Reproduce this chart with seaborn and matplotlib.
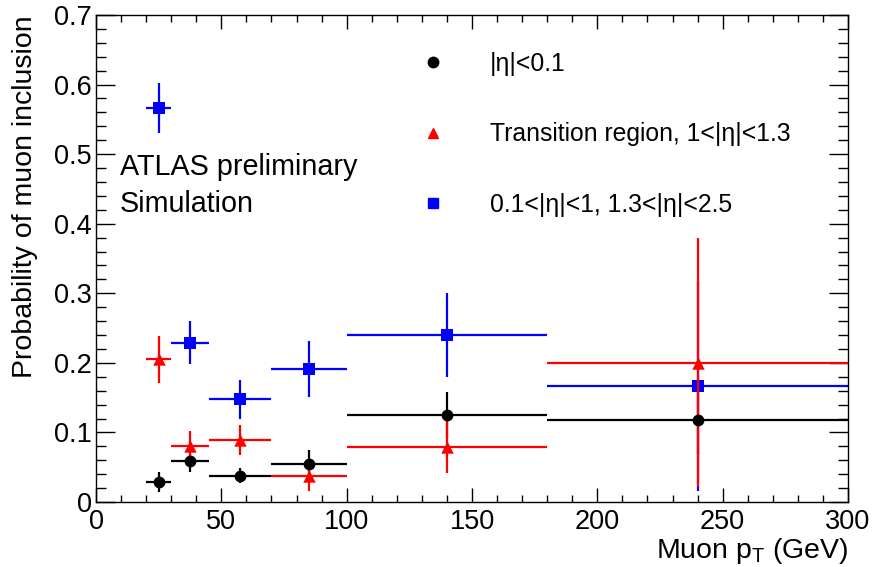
import matplotlib
matplotlib.use("Agg")
import numpy as np
import pandas as pd
import seaborn as sns
import matplotlib.pyplot as plt
from matplotlib.lines import Line2D
from matplotlib.ticker import MultipleLocator, FuncFormatter

# ---------------- data ----------------
bin_lo = [20, 30, 45, 70, 100, 180]
bin_hi = [30, 45, 70, 100, 180, 300]
pt_center = [25, 37.5, 57.5, 85, 140, 240]

black_y = [0.029, 0.059, 0.038, 0.055, 0.125, 0.118]
black_err = [0.014, 0.016, 0.011, 0.020, 0.033, 0.050]

red_y = [0.205, 0.080, 0.089, 0.037, 0.079, 0.200]
red_err = [0.034, 0.022, 0.021, 0.021, 0.038, 0.179]

blue_y = [0.566, 0.229, 0.148, 0.191, 0.240, 0.167]
blue_err = [0.036, 0.031, 0.028, 0.040, 0.060, 0.151]

labels = ["|η|<0.1", "Transition region, 1<|η|<1.3", "0.1<|η|<1, 1.3<|η|<2.5"]
x_ticks = [0, 50, 100, 150, 200, 250, 300]
y_ticks = [0, 0.1, 0.2, 0.3, 0.4, 0.5, 0.6, 0.7]

# ---------------- style ----------------
sns.set_style("ticks")
plt.rcParams["font.family"] = ["Liberation Sans", "DejaVu Sans"]
plt.rcParams["mathtext.fontset"] = "custom"
plt.rcParams["mathtext.rm"] = "Liberation Sans"
plt.rcParams["mathtext.it"] = "Liberation Sans"
for k in ["text.color", "axes.labelcolor", "xtick.color", "ytick.color", "axes.edgecolor"]:
    plt.rcParams[k] = "black"

W, H = 875, 567
fig = plt.figure(figsize=(W / 100, H / 100), dpi=100)
ax = fig.add_axes([96 / W, 1 - 502 / H, 752 / W, 487 / H])

xc = np.array(pt_center)
xerr = np.array([xc - np.array(bin_lo), np.array(bin_hi) - xc])

series = {
    "black": dict(y=black_y, err=black_err, marker="o", color="black", s=72, z_bar=3, z_mk=8),
    "blue": dict(y=blue_y, err=blue_err, marker="s", color="blue", s=64, z_bar=2, z_mk=2.5),
    "red": dict(y=red_y, err=red_err, marker="^", color="red", s=80, z_bar=4, z_mk=5),
}

for name, d in series.items():
    ax.errorbar(xc, d["y"], yerr=d["err"], xerr=xerr, fmt="none",
                ecolor=d["color"], elinewidth=1.6, capsize=0, zorder=d["z_bar"])
    df = pd.DataFrame({"pt": xc, "p": d["y"]})
    sns.scatterplot(data=df, x="pt", y="p", marker=d["marker"], color=d["color"],
                    s=d["s"], linewidth=0, ax=ax, zorder=d["z_mk"], legend=False)

ax.set_xlim(0, 300)
ax.set_ylim(0, 0.7)
ax.set_xticks(x_ticks)
ax.set_yticks(y_ticks)
ax.xaxis.set_minor_locator(MultipleLocator(10))
ax.yaxis.set_minor_locator(MultipleLocator(0.02))
ax.yaxis.set_major_formatter(FuncFormatter(lambda v, p: f"{v:g}"))
ax.tick_params(which="both", direction="in", top=True, right=True, width=1,
               colors="black", labelsize=19.5)
ax.tick_params(axis="x", which="major", length=10, pad=5)
ax.tick_params(axis="x", which="minor", length=5)
ax.tick_params(axis="y", which="major", length=14, pad=3)
ax.tick_params(axis="y", which="minor", length=7)
for sp in ax.spines.values():
    sp.set_linewidth(1.0)
    sp.set_color("black")

ax.set_xlabel(r"Muon p$_{\mathrm{T}}$ (GeV)", fontsize=20.5, loc="right")
ax.xaxis.label.set_va("baseline")
ax.xaxis.set_label_coords(1.0, (502 - 558) / 487)
ax.set_ylabel("Probability of muon inclusion", fontsize=20.5, loc="top")
ax.yaxis.set_label_coords(-0.077, 1.0)

ax.text(0.032, (502 - 175) / 487, "ATLAS preliminary", transform=ax.transAxes,
        fontsize=20.7, va="baseline", ha="left")
ax.text(0.032, (502 - 211.5) / 487, "Simulation", transform=ax.transAxes,
        fontsize=20.7, va="baseline", ha="left")

handles = [
    Line2D([], [], ls="none", marker="o", color="black", markersize=7.5),
    Line2D([], [], ls="none", marker="^", color="red", markersize=7.5),
    Line2D([], [], ls="none", marker="s", color="blue", markersize=7),
]
ax.legend(handles, labels, loc="upper left", bbox_to_anchor=(420.75 / W, 1 - 52 / H),
          bbox_transform=fig.transFigure, frameon=False, fontsize=17.8,
          handlelength=1.0, handletextpad=1.8, labelspacing=1.88,
          borderpad=0, borderaxespad=0)

fig.savefig("out.png", dpi=100)
